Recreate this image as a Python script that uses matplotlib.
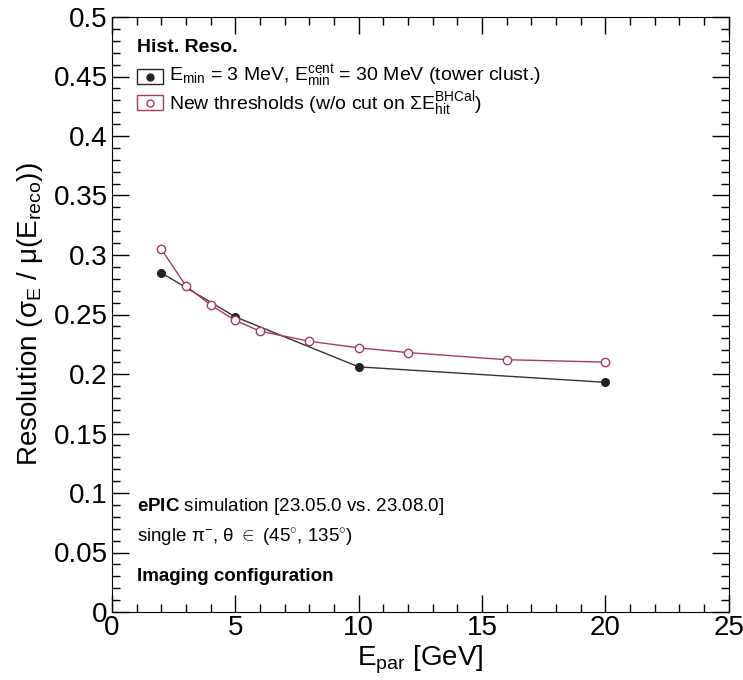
import numpy as np
import matplotlib.pyplot as plt
from matplotlib.patches import Rectangle
from matplotlib.ticker import MultipleLocator

plt.rcParams['font.family'] = ['Liberation Sans', 'DejaVu Sans']
plt.rcParams['mathtext.fontset'] = 'custom'
plt.rcParams['mathtext.rm'] = 'Liberation Sans'
plt.rcParams['mathtext.it'] = 'Liberation Sans:italic'
plt.rcParams['mathtext.bf'] = 'Liberation Sans:bold'

# old thresholds (tower clustering)
e_old = [2, 5, 10, 20]
res_old = [0.285, 0.248, 0.206, 0.193]
# new thresholds
e_new = [2, 3, 4, 5, 6, 8, 10, 12, 16, 20]
res_new = [0.305, 0.274, 0.258, 0.245, 0.236, 0.2275, 0.222, 0.218, 0.212, 0.210]

lab_old = r'E$_{\mathrm{min}}$ = 3 MeV, E$_{\mathrm{min}}^{\mathrm{cent}}$ = 30 MeV (tower clust.)'
lab_new = r'New thresholds (w/o cut on ΣE$_{\mathrm{hit}}^{\mathrm{BHCal}}$)'

red = '#a83a5e'
dark = '#222222'

fig = plt.figure(figsize=(7.43, 6.8), dpi=100)
ax = fig.add_axes([0.1507, 0.1, 0.830, 0.875])

ax.plot(e_old, res_old, color='#333333', lw=1.0, marker='o', ms=5.5,
        mfc=dark, mec=dark)
ax.plot(e_new, res_new, color=red, lw=1.0, marker='o', ms=6,
        mfc='white', mec=red)

ax.set_xlim(0, 25)
ax.set_ylim(0, 0.5)
ax.xaxis.set_major_locator(MultipleLocator(5))
ax.xaxis.set_minor_locator(MultipleLocator(1))
ax.yaxis.set_minor_locator(MultipleLocator(0.01))
ax.set_yticks(np.arange(0, 0.501, 0.05))
ax.set_yticklabels(['0', '0.05', '0.1', '0.15', '0.2', '0.25', '0.3', '0.35', '0.4', '0.45', '0.5'])
ax.tick_params(which='both', direction='in', top=True, right=True, labelsize=20, width=1)
ax.tick_params(which='major', length=12)
ax.tick_params(which='minor', length=6)
ax.tick_params(axis='x', pad=2)
ax.tick_params(axis='y', pad=3)

ax.set_xlabel(r'E$_{\mathrm{par}}$ [GeV]', fontsize=20, labelpad=2)
ax.set_ylabel(r'Resolution (σ$_{\mathrm{E}}$ / μ(E$_{\mathrm{reco}}$))', fontsize=20, labelpad=6)

# ROOT-style legend, built by hand (box + marker + label)
ax.text(0.0405, 0.948, 'Hist. Reso.', transform=ax.transAxes, fontsize=14,
        fontweight='bold', va='center')
entries = [(0.900, 0.892, lab_old, dark, dark), (0.856, 0.846, lab_new, red, 'white')]
for yc, yb, lab, col, fc in entries:
    ax.add_patch(Rectangle((0.0405, yc - 0.0125), 0.042, 0.025, fill=False,
                           edgecolor=col, lw=1.0, transform=ax.transAxes, clip_on=False))
    ax.plot([0.0616], [yc], marker='o', ms=5, mfc=fc, mec=col,
            transform=ax.transAxes, clip_on=False)
    ax.text(0.0924, yb, lab, transform=ax.transAxes, fontsize=14, va='baseline')

ax.text(0.04, 0.178, r'$\mathbf{ePIC}$ simulation [23.05.0 vs. 23.08.0]', transform=ax.transAxes,
        fontsize=13.5, va='center')
ax.text(0.04, 0.124, r'single π$^{\mathrm{-}}$, θ $\in$ (45$^{\circ}$, 135$^{\circ}$)', transform=ax.transAxes,
        fontsize=13.5, va='center')
ax.text(0.04, 0.06, 'Imaging configuration', transform=ax.transAxes,
        fontsize=13.5, va='center', fontweight='bold')

fig.savefig('out.png', dpi=100)
